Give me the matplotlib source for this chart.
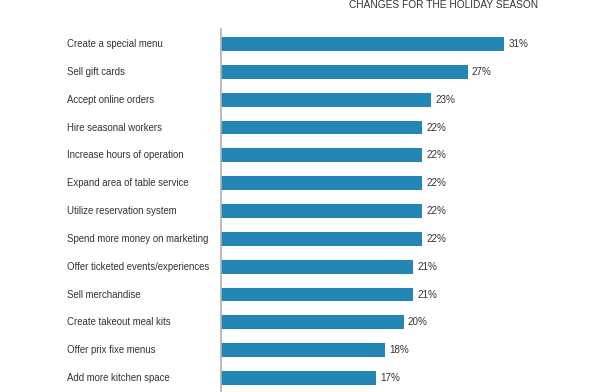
import matplotlib
matplotlib.use('Agg')
import matplotlib.pyplot as plt
from matplotlib.transforms import blended_transform_factory

categories = [
    'Create a special menu',
    'Sell gift cards',
    'Accept online orders',
    'Hire seasonal workers',
    'Increase hours of operation',
    'Expand area of table service',
    'Utilize reservation system',
    'Spend more money on marketing',
    'Offer ticketed events/experiences',
    'Sell merchandise',
    'Create takeout meal kits',
    'Offer prix fixe menus',
    'Add more kitchen space',
]
values = [31, 27, 23, 22, 22, 22, 22, 22, 21, 21, 20, 18, 17]
title = 'CHANGES FOR THE HOLIDAY SEASON'

plt.rcParams['font.family'] = ['Liberation Sans', 'DejaVu Sans']

fig = plt.figure(figsize=(6, 3.92), dpi=100)
ax = fig.add_axes([220.5 / 600, 0, 379.5 / 600, 363 / 392])

y = list(range(len(categories)))
bars = ax.barh(y, values, height=0.5, color='#2386b4')

ax.set_xlim(0, 379.5 / 9.16)
ax.set_ylim(len(categories) - 0.497, -0.54)

for s in ['top', 'right', 'bottom']:
    ax.spines[s].set_visible(False)
ax.spines['left'].set_color('#b0b0b0')
ax.spines['left'].set_linewidth(1.2)
ax.set_xticks([])
ax.set_yticks([])

# category labels sit left-aligned in the margin, not as tick labels
trans = blended_transform_factory(fig.transFigure, ax.transData)
for yi, cat in zip(y, categories):
    fig.text(67 / 600, yi, cat, transform=trans, ha='left', va='center',
             fontsize=6.95, color='#333333')

for bar, val in zip(bars, values):
    ax.annotate(f'{val}%', (bar.get_width(), bar.get_y() + bar.get_height() / 2),
                xytext=(3, 0), textcoords='offset points',
                ha='left', va='center', fontsize=7.1, color='#333333')

fig.text(444 / 600, 1 - 5 / 392, title, ha='center', va='center',
         fontsize=7.3, color='#333333')

fig.savefig('out.png', dpi=100)
